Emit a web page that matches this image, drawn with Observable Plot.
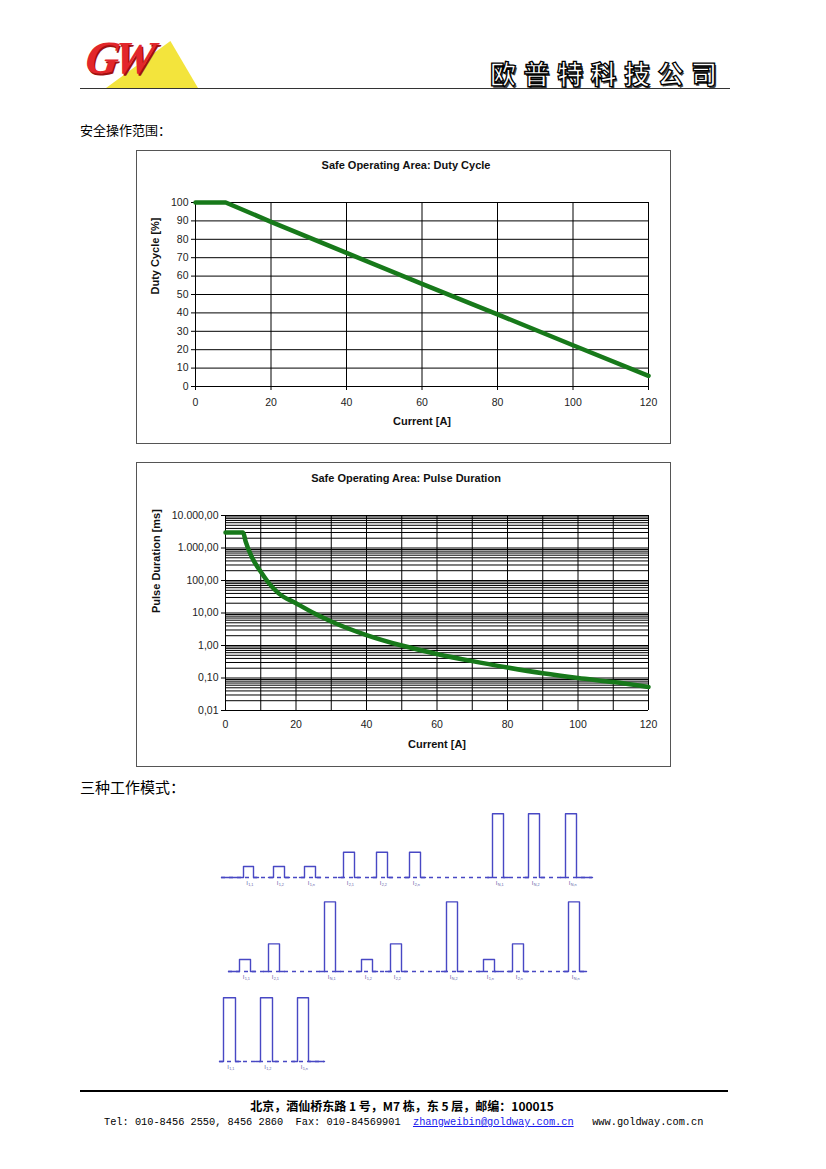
<!DOCTYPE html>
<html><head><meta charset="utf-8">
<script src="https://cdn.jsdelivr.net/npm/d3@7"></script>
<script src="https://cdn.jsdelivr.net/npm/@observablehq/plot@0.6"></script>
<style>
html,body{margin:0;padding:0;background:#fff}
body{width:826px;height:1169px;position:relative;overflow:hidden;font-family:"Liberation Sans",Arial,sans-serif}
.abs{position:absolute}
.frame{position:absolute;border:1px solid #555;box-sizing:border-box}
svg{overflow:visible}
</style></head><body>

<!-- header -->
<div class="abs" style="left:106px;top:41px;width:92px;height:47px;background:#f3e43c;clip-path:polygon(0 100%,70% 0,100% 100%)"></div>
<div class="abs" style="left:86px;top:30px;font:italic bold 46px 'Liberation Serif',serif;color:#e2262b;letter-spacing:-5px;text-shadow:1.5px 1.5px 0 #9e1010;transform:skewX(-8deg);line-height:56px">GW</div>
<div class="abs" style="left:490px;top:58px;font:bold 26px 'Noto Sans CJK SC',sans-serif;color:#fff;-webkit-text-stroke:1.3px #000;letter-spacing:7.5px;text-shadow:1.5px 1.5px 0 #444;line-height:30px">欧普特科技公司</div>
<div class="abs" style="left:80px;top:88px;width:650px;height:1px;background:#333"></div>

<div class="abs" style="left:80px;top:121px;font:13px 'Noto Sans CJK SC',sans-serif;line-height:18px">安全操作范围：</div>

<div class="frame" style="left:136px;top:150px;width:535px;height:294px"></div>
<div class="abs" id="c1" style="left:136px;top:150px"></div>

<div class="frame" style="left:136px;top:462px;width:535px;height:305px"></div>
<div class="abs" id="c2" style="left:136px;top:462px"></div>

<div class="abs" style="left:80px;top:776px;font:15px 'Noto Sans CJK SC',sans-serif;line-height:21px">三种工作模式：</div>

<div class="abs" id="p1" style="left:200px;top:811px"></div>
<div class="abs" id="p2" style="left:200px;top:899px"></div>
<div class="abs" id="p3" style="left:200px;top:995px"></div>

<!-- footer -->
<div class="abs" style="left:80px;top:1090px;width:648px;height:2px;background:#000"></div>
<div class="abs" style="left:0;top:1097px;width:804px;text-align:center;font:bold 12px 'Noto Sans CJK SC',sans-serif;line-height:17px">北京，酒仙桥东路 1 号，M7 栋，东 5 层，邮编：100015</div>
<div class="abs" style="left:104px;top:1115px;font:10.3px 'Liberation Mono',monospace;white-space:pre;line-height:14px">Tel: 010-8456 2550, 8456 2860  Fax: 010-84569901  <span style="color:#1a1aee;text-decoration:underline">zhangweibin@goldway.com.cn</span>   www.goldway.com.cn</div>

<script>
// ---------- data ----------
const dutyCurrent = [0, 8, 20, 40, 60, 80, 100, 120];
const dutyCycle   = [100, 100, 89.5, 72.6, 55.8, 39.2, 22.4, 5.8];
const dutyXTicks  = [0, 20, 40, 60, 80, 100, 120];
const dutyYTicks  = [0, 10, 20, 30, 40, 50, 60, 70, 80, 90, 100];

const pulseCurrent  = [0, 5, 5.7, 7.6, 10.3, 12.3, 15, 20, 25, 30, 40, 50, 60, 70, 80, 90, 100, 110, 120];
const pulseDuration = [3000, 3000, 1600, 490, 168, 83, 41, 20, 10, 5.5, 2.1, 1.0, 0.55, 0.33, 0.21, 0.14, 0.10, 0.075, 0.053];
const pulseXTicks   = [0, 10, 20, 30, 40, 50, 60, 70, 80, 90, 100, 110, 120];
const pulseXLabels  = [0, 20, 40, 60, 80, 100, 120];
const pulseYTicks   = [0.01, 0.1, 1, 10, 100, 1000, 10000];
const pulseYLabels  = ["0,01", "0,10", "1,00", "10,00", "100,00", "1.000,00", "10.000,00"];

// pulse-mode diagrams (time units, relative current levels)
const mode1Start = [43, 73, 104, 143, 176, 209, 292, 328, 365];
const mode1End   = [53, 84, 115, 154, 187, 220, 303, 339, 376];
const mode1Level = [1, 1, 1, 2.3, 2.3, 2.3, 5.8, 5.8, 5.8];
const mode1Label = ["1,1", "1,2", "1,n", "2,1", "2,2", "2,n", "N,1", "N,2", "N,n"];
const mode1Span  = [21, 392];

const mode2Start = [39, 68, 124, 161, 190, 246, 283, 312, 368];
const mode2End   = [50, 79, 135, 172, 201, 257, 294, 323, 379];
const mode2Level = [1, 2.3, 5.8, 1, 2.3, 5.8, 1, 2.3, 5.8];
const mode2Label = ["1,1", "2,1", "N,1", "1,2", "2,2", "N,2", "1,n", "2,n", "N,n"];
const mode2Span  = [28, 386];

const mode3Start = [23, 60, 97];
const mode3End   = [35, 72, 108];
const mode3Level = [5.8, 5.8, 5.8];
const mode3Label = ["1,1", "1,2", "1,n"];
const mode3Span  = [19, 124];

// ---------- styles ----------
const GREEN = "#17791a";
const BLUE = "#4848c4";
const baseStyle = {fontFamily: "'Liberation Sans', Arial, sans-serif", fontSize: "10.5px", color: "#222", background: "transparent", overflow: "visible"};

// ---------- chart 1 ----------
const duty = dutyCurrent.map((c, i) => ({c, v: dutyCycle[i]}));
const c1 = Plot.plot({
  width: 534, height: 293,
  marginLeft: 59, marginRight: 22, marginTop: 52, marginBottom: 57,
  style: baseStyle,
  x: {domain: [0, 120]},
  y: {domain: [0, 100]},
  marks: [
    Plot.ruleY(dutyYTicks, {stroke: "#000", strokeWidth: 1}),
    Plot.ruleX(dutyXTicks, {stroke: "#000", strokeWidth: 1}),
    Plot.axisY({ticks: dutyYTicks, tickSize: 4, tickPadding: 3, label: null, stroke: "#000"}),
    Plot.axisX({ticks: dutyXTicks, tickSize: 4, tickPadding: 8, label: null, stroke: "#000"}),
    Plot.line(duty, {x: "c", y: "v", stroke: GREEN, strokeWidth: 4.5, strokeLinejoin: "round"}),
    Plot.text(["Safe Operating Area: Duty Cycle"], {frameAnchor: "top", dy: -41, dx: -16, fontWeight: "bold", fontSize: 11, fill: "#111"}),
    Plot.text(["Current [A]"], {frameAnchor: "bottom", dy: 38, fontWeight: "bold", fontSize: 11, fill: "#111"}),
    Plot.text(["Duty Cycle [%]"], {frameAnchor: "left", dx: -40, rotate: -90, fontWeight: "bold", fontSize: 11, fill: "#111"})
  ]
});
document.getElementById("c1").append(c1);

// ---------- chart 2 ----------
const pulse = pulseCurrent.map((c, i) => ({c, v: pulseDuration[i]}));
const minorY = d3.scaleLog().domain([0.01, 10000]).ticks();
const c2 = Plot.plot({
  width: 534, height: 304,
  marginLeft: 89, marginRight: 22, marginTop: 53, marginBottom: 56,
  style: baseStyle,
  x: {domain: [0, 120]},
  y: {type: "log", domain: [0.01, 10000]},
  marks: [
    Plot.ruleY(minorY, {stroke: "#000", strokeWidth: 1}),
    Plot.ruleX(pulseXTicks, {stroke: "#000", strokeWidth: 1}),
    Plot.axisY({ticks: pulseYTicks, tickFormat: d => pulseYLabels[pulseYTicks.indexOf(d)], tickSize: 4, tickPadding: 3, label: null, stroke: "#000"}),
    Plot.axisX({ticks: pulseXLabels, tickSize: 0, tickPadding: 10, label: null}),
    Plot.line(pulse, {x: "c", y: "v", stroke: GREEN, strokeWidth: 4.5, curve: "monotone-x", strokeLinejoin: "round"}),
    Plot.text(["Safe Operating Area: Pulse Duration"], {frameAnchor: "top", dy: -41, dx: -31, fontWeight: "bold", fontSize: 11, fill: "#111"}),
    Plot.text(["Current [A]"], {frameAnchor: "bottom", dy: 37, fontWeight: "bold", fontSize: 11, fill: "#111"}),
    Plot.text(["Pulse Duration [ms]"], {frameAnchor: "left", dx: -69, rotate: -90, fontWeight: "bold", fontSize: 11, fill: "#111"})
  ]
});
document.getElementById("c2").append(c2);

// ---------- pulse diagrams ----------
function pulseRow(starts, ends, levels, labels, span, unitPx) {
  const stub = 5;
  const pts = [];
  starts.forEach((s, i) => {
    const e = ends[i], a = levels[i];
    const x0 = i === 0 ? span[0] : s - stub;
    const x1 = i === starts.length - 1 ? span[1] : e + stub;
    pts.push({k: i, t: x0, a: 0}, {k: i, t: s, a: 0}, {k: i, t: s, a}, {k: i, t: e, a}, {k: i, t: e, a: 0}, {k: i, t: x1, a: 0});
  });
  const lab = starts.map((s, i) => ({t: (s + ends[i]) / 2, sub: labels[i]}));
  const plotH = 6 * unitPx;
  return Plot.plot({
    width: 400, height: plotH + 14,
    marginLeft: 0, marginRight: 0, marginTop: 0, marginBottom: 14,
    style: {background: "transparent", overflow: "visible", fontFamily: "'Liberation Sans', Arial, sans-serif"},
    x: {domain: [0, 400], axis: null},
    y: {domain: [0, 6], axis: null},
    marks: [
      Plot.ruleY([0], {x1: span[0], x2: span[1], stroke: BLUE, strokeWidth: 1.3, strokeDasharray: "4,4"}),
      Plot.line(pts, {x: "t", y: "a", z: "k", stroke: BLUE, strokeWidth: 1.4}),
      Plot.text(lab, {x: d => d.t - 1.5, y: 0, text: () => "I", dy: 6, fontSize: 6, fill: "#6464a8"}),
      Plot.text(lab, {x: d => d.t - 0.3, y: 0, text: "sub", dy: 7.5, fontSize: 3.8, textAnchor: "start", fill: "#6464a8"})
    ]
  });
}
document.getElementById("p1").append(pulseRow(mode1Start, mode1End, mode1Level, mode1Label, mode1Span, 11));
document.getElementById("p2").append(pulseRow(mode2Start, mode2End, mode2Level, mode2Label, mode2Span, 12));
document.getElementById("p3").append(pulseRow(mode3Start, mode3End, mode3Level, mode3Label, mode3Span, 11));
</script>
</body></html>
